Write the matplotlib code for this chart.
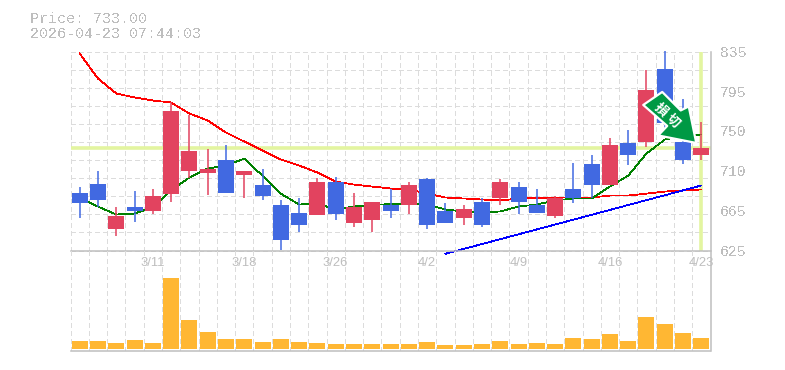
import matplotlib
matplotlib.use('Agg')
import matplotlib.pyplot as plt
from matplotlib.patches import Polygon
from matplotlib.transforms import IdentityTransform
import numpy as np

W=785
H=370

title1="Price: 733.00"
title2="2026-04-23 07:44:03"
last_price=733

highs=[691.5,709.4,671.4,688.3,689.4,781.5,767.5,731.6,736,709.4,710.5,677.8,680.9,701,703,686.2,675.7,689.4,696.8,701,674.6,672.5,680.9,700,697.8,690.4,683,717,725.3,744,752,815,836,785,761]
lows=[659.8,671.4,640.8,655.6,664,676.7,702,684,686.2,679.9,677.8,626,645,662,657.7,650.3,645,658.8,663,647.2,654.5,651.4,649.3,672.5,664,665.1,659.8,674.6,680.9,693.6,715,734.7,745,716,720]
opens=[686.2,695.7,647.2,670.4,666.2,685.1,709.4,707.3,721,705.2,694.6,672.5,665.1,662,697.8,653.5,656.7,672.5,673.5,700,667.2,658.8,675.7,680.9,691.5,673.5,660.9,690.4,715.8,693.6,738,740,817,739,725.3]
closes=[674.6,677.8,660.9,666.2,682,771.7,729.5,711.5,686.2,709.4,682,636.6,651.4,697.8,663,670.4,675.7,666.2,693.6,651.4,654.5,668.3,652.4,697.8,676.7,665.1,680.9,679.9,693.6,736,725.3,794,760,721,733]
volumes=[8,8,6,9,6,71,29,17,10,10,7,10,7,6,5,5,5,5,5,7,4,4,5,8,5,6,5,11,10,15,8,32,25,16,11]
ma_short=[680.9,671.4,663,664,670.4,688.3,702,711.5,714.7,721.9,703.9,685,673.5,674.6,668.3,671.4,673,674,674.6,673.5,668.3,666.2,665,666.2,671.4,673.5,677.8,679.9,679.9,692.5,704,727.4,742,746.3,747.4]
ma_long=[832.9,806.5,790.7,786.5,783.3,781.2,769.6,762.2,749.5,740,730.5,721,714.7,707.3,697.8,694.6,692.5,690.4,689.4,685.1,680.9,679.9,678.8,678,679.6,680.6,680.9,680.9,680.9,683,683,685,687.2,688.3,689.4]
trend_idx=[20,34]
trend_val=[621.5,693.6]

date_idx=[4,9,14,19,24,29,34]
date_labels=['3/11','3/18','3/26','4/2','4/9','4/16','4/23']
price_ticks=[835,793,751,709,667,625]
price_labels=['835','795','750','710','665','625']
arrow_chars=['損','切']

UP='#E2435F'
DOWN='#4169E1'
GRAY='#BEBEBE'
GRID='#DCDCDC'
MARK='#E3F5A0'

def rect(l,t,r,b):
  return (l/W,1-b/H,(r-l)/W,(b-t)/H)

fig=plt.figure(figsize=(W/100,H/100),dpi=100)
ax=fig.add_axes(rect(70.5,51.5,710.5,250.5))
av=fig.add_axes(rect(70.5,250.5,710.5,350.5))
av.patch.set_visible(False)
n=len(opens)
x=np.arange(n)

for a in (ax,av):
  a.set_xlim(-0.5,n-0.5)
  a.set_xticks(x-0.5)
  a.tick_params(length=0,labelbottom=False,labelleft=False)
  a.grid(axis='x',color=GRID,lw=0.6,ls=(0,(5.5,4)),antialiased=False)
  a.set_axisbelow(True)
  a.spines['top'].set_visible(False)
  a.spines['left'].set_visible(False)
  a.spines['right'].set_color(GRAY)
  a.spines['bottom'].set_color(GRAY)
  a.spines['right'].set_linewidth(1.1)
  a.spines['bottom'].set_linewidth(1.1)

ax.set_ylim(625,835)
ax.set_yticks(np.linspace(625,835,12))
ax.grid(axis='y',color=GRID,lw=0.6,ls=(0,(5.5,4)),antialiased=False)
for l in ax.get_xgridlines()+ax.get_ygridlines():
  l.set_clip_on(False)

ax.axhline(last_price,color=MARK,lw=2.6,zorder=1.5)
ax.axvline(n-1,color=MARK,lw=2.6,zorder=1.5)

ax.plot(x,ma_long,color='#FF0000',lw=0.55,zorder=2,antialiased=False)
ax.plot(x,ma_short,color='#008000',lw=0.55,zorder=2,antialiased=False)
ax.plot(trend_idx,trend_val,color='#0000FF',lw=0.55,zorder=2.1,clip_on=False,antialiased=False)

colors=[UP if c>=o else DOWN for o,c in zip(opens,closes)]
ax.vlines(x,lows,highs,colors=colors,lw=1.1,zorder=3,clip_on=False)
ax.bar(x,np.abs(np.array(closes)-np.array(opens)),bottom=np.minimum(opens,closes),width=0.875,color=colors,zorder=4,antialiased=False)

av.set_ylim(-2,98)
av.set_yticks([])
av.bar(x,volumes,width=0.875,color='#FFB733',zorder=3,antialiased=False)

# date labels sit in the top of the volume panel
for i,s in zip(date_idx,date_labels):
  av.text(i,86,s,ha='center',va='center',color=GRAY,family='Liberation Sans',fontsize=9.4,zorder=5,clip_on=False)

# price labels on the right
for p,s in zip(price_ticks,price_labels):
  ax.annotate(s,xy=(1,p),xycoords=ax.get_yaxis_transform(),xytext=(6.8,-1),textcoords='offset points',
              ha='left',va='center',color=GRAY,family='Liberation Mono',fontsize=10.6,annotation_clip=False,antialiased=False)

for s,yy in ((title1,23),(title2,38)):
  fig.text(30/W,1-yy/H,s,color=GRAY,family='Liberation Mono',fontsize=10.8,ha='left',va='baseline',antialiased=False)

# signal arrow, shape given relative to its tip
tip=ax.transData.transform((33.72,738.5))
shape=np.array([[-53,-38],[-34,-51],[-15.5,-32.5],[-7.5,-36.5],[0,0],[-38,-7.5],[-29,-17]])
pts=np.column_stack((tip[0]+shape[:,0],tip[1]-shape[:,1]))
fig.add_artist(Polygon(pts,closed=True,transform=IdentityTransform(),facecolor='#009944',edgecolor='white',lw=1.6,joinstyle='round',zorder=10))
for s,off in zip(arrow_chars,((-35.7,33.6),(-23.4,22))):
  c=tip+np.array(off)
  fig.text(c[0]/W,c[1]/H,s,color='white',family=['Noto Sans CJK JP','DejaVu Sans'],fontweight='bold',fontsize=9.5,
           rotation=-43,rotation_mode='anchor',ha='center',va='center',zorder=11)

plt.savefig('out.png',dpi=100)
